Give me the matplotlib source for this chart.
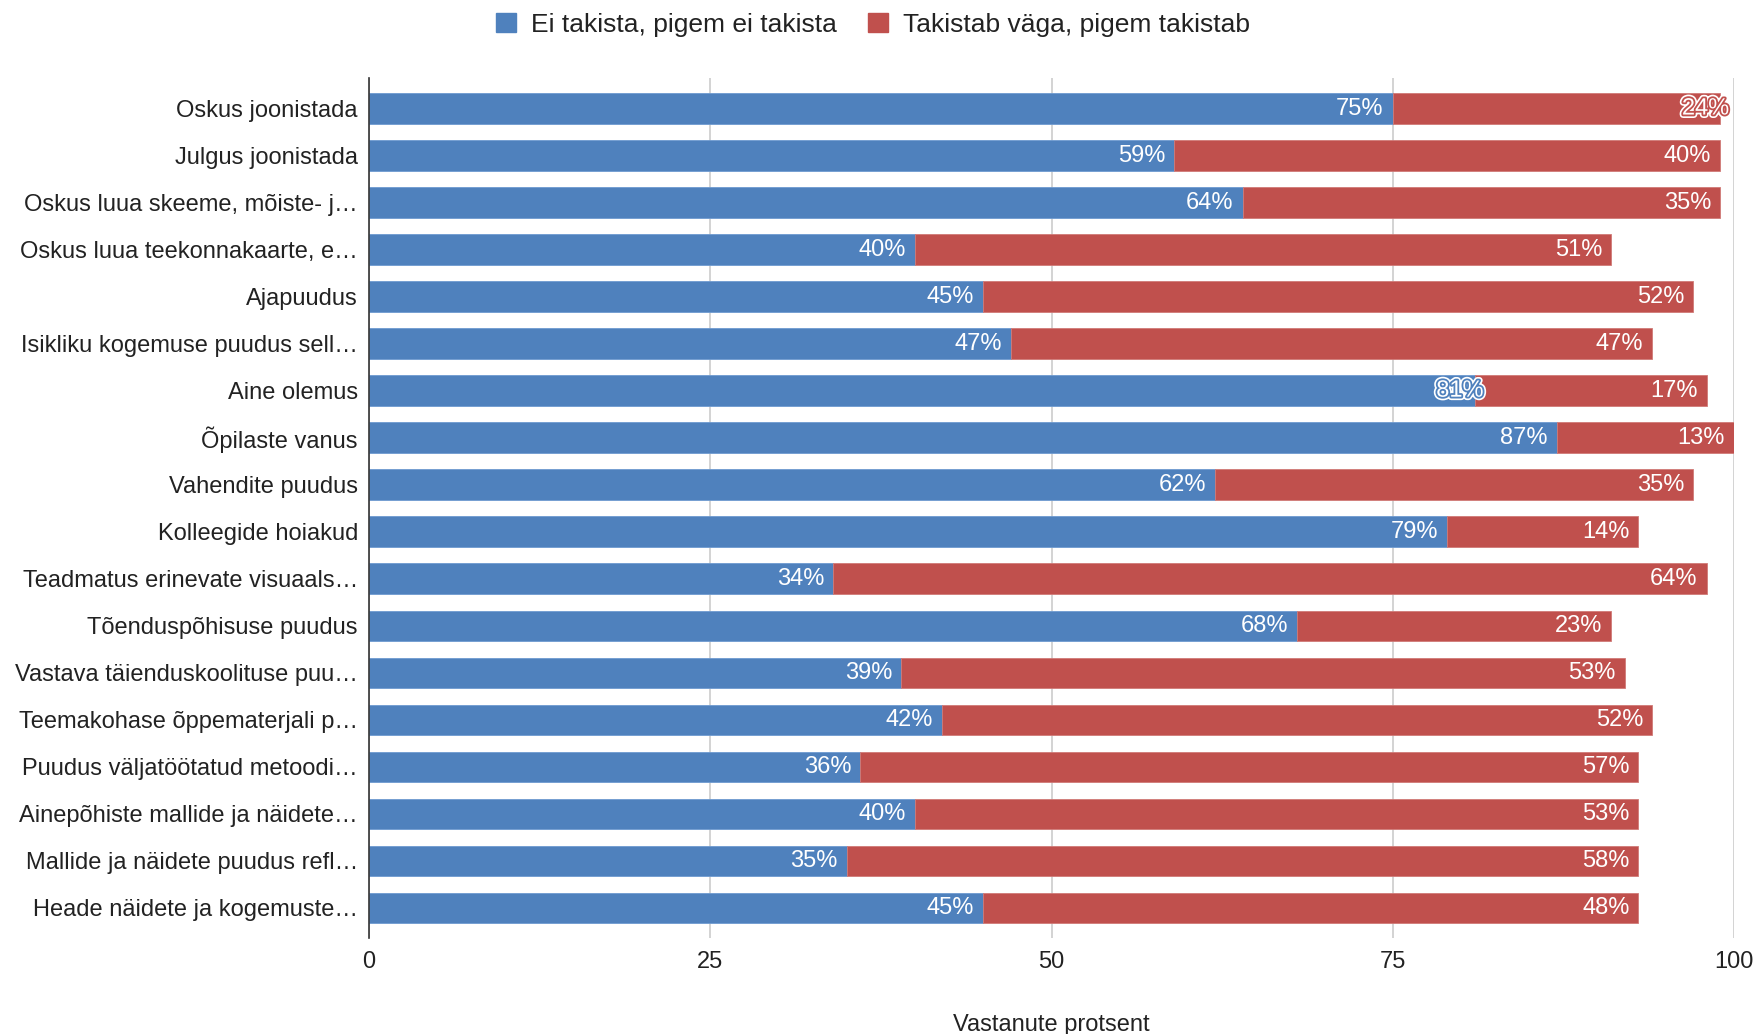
import matplotlib
matplotlib.use("Agg")
import matplotlib.pyplot as plt
import matplotlib.patheffects as pe
from matplotlib.patches import Patch

plt.rcParams['font.family'] = ['Liberation Sans', 'DejaVu Sans']

categories = [
    "Oskus joonistada",
    "Julgus joonistada",
    "Oskus luua skeeme, mõiste- j…",
    "Oskus luua teekonnakaarte, e…",
    "Ajapuudus",
    "Isikliku kogemuse puudus sell…",
    "Aine olemus",
    "Õpilaste vanus",
    "Vahendite puudus",
    "Kolleegide hoiakud",
    "Teadmatus erinevate visuaals…",
    "Tõenduspõhisuse puudus",
    "Vastava täienduskoolituse puu…",
    "Teemakohase õppematerjali p…",
    "Puudus väljatöötatud metoodi…",
    "Ainepõhiste mallide ja näidete…",
    "Mallide ja näidete puudus refl…",
    "Heade näidete ja kogemuste…",
]
ei_takista = [75, 59, 64, 40, 45, 47, 81, 87, 62, 79, 34, 68, 39, 42, 36, 40, 35, 45]
takistab = [24, 40, 35, 51, 52, 47, 17, 13, 35, 14, 64, 23, 53, 52, 57, 53, 58, 48]
series_names = ["Ei takista, pigem ei takista", "Takistab väga, pigem takistab"]
xticks = [0, 25, 50, 75, 100]
x_label = "Vastanute protsent"
# labels drawn with halo (series index, row index)
halo_labels = {(1, 0), (0, 6)}

blue = "#4f81bd"
red = "#c0504d"
colors = [blue, red]

fig = plt.figure(figsize=(17.6, 10.34), dpi=100)
ax = fig.add_axes([0.2097, 0.0928, 0.9852 - 0.2097, 0.9246 - 0.0928])

y = list(range(len(categories)))
h = 0.65
ax.barh(y, ei_takista, height=h, color=blue, edgecolor="#6f9bd0", linewidth=0.6, zorder=3)
ax.barh(y, takistab, left=ei_takista, height=h, color=red, edgecolor="#d07a77", linewidth=0.6, zorder=3)

ax.set_xlim(0, 100)
ax.set_ylim(len(categories) - 1 + 0.64, -0.65)
ax.set_xticks(xticks)
ax.set_xticklabels([str(t) for t in xticks])
ax.set_yticks(y)
ax.set_yticklabels(categories)
ax.tick_params(axis='both', length=0, labelsize=17, colors="#222222")
ax.tick_params(axis='x', pad=9)
ax.tick_params(axis='y', pad=8)
ax.grid(axis='x', color="#cccccc", linewidth=1.2, zorder=0)
ax.set_axisbelow(True)
for s in ['top', 'right', 'bottom']:
    ax.spines[s].set_visible(False)
ax.spines['left'].set_color("#333333")
ax.spines['left'].set_linewidth(1.2)
ax.spines['left'].set_zorder(5)
ax.set_xlabel(x_label, fontsize=17, color="#222222", labelpad=30)

import matplotlib.transforms as mtransforms
for si, (vals, lefts) in enumerate([(ei_takista, [0] * len(ei_takista)), (takistab, ei_takista)]):
    for i, (v, l) in enumerate(zip(vals, lefts)):
        end = l + v
        if (si, i) in halo_labels:
            off = mtransforms.offset_copy(ax.transData, fig=fig, x=9, y=0, units='dots')
            t = ax.text(end, i, f"{v}%", transform=off, ha='right', va='center',
                        fontsize=17, color='white', zorder=6)
            t.set_path_effects([pe.Stroke(linewidth=5, foreground='white'),
                                pe.Stroke(linewidth=2.6, foreground=colors[si]),
                                pe.Normal()])
        else:
            off = mtransforms.offset_copy(ax.transData, fig=fig, x=-9, y=0, units='dots')
            ax.text(end, i, f"{v}%", transform=off, ha='right', va='center',
                    fontsize=17, color='white', zorder=6)

handles = [Patch(facecolor=c, edgecolor=c) for c in colors]
fig.legend(handles, series_names, loc='center', bbox_to_anchor=(0.496, 0.976),
           ncol=2, frameon=False, fontsize=19, handlelength=0.75, handleheight=0.75,
           handletextpad=0.55, columnspacing=1.2, labelcolor="#222222")

fig.savefig("out.png", dpi=100)
